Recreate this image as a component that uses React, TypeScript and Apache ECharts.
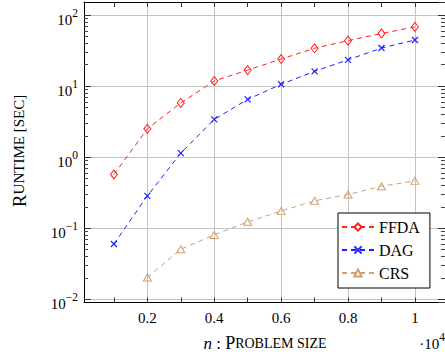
import React, { useEffect, useRef } from "react";
import * as echarts from "echarts";

// x values are in units of 10^4
const xValues = [0.1, 0.2, 0.3, 0.4, 0.5, 0.6, 0.7, 0.8, 0.9, 1.0];
const ffdaValues = [0.57, 2.5, 5.8, 11.8, 16.8, 24, 34, 43.6, 55, 68];
const dagValues = [0.06, 0.285, 1.14, 3.4, 6.5, 10.6, 16.1, 23.4, 34.3, 44.5];
const crsX = [0.2, 0.3, 0.4, 0.5, 0.6, 0.7, 0.8, 0.9, 1.0];
const crsValues = [0.0202, 0.0506, 0.0805, 0.123, 0.174, 0.243, 0.298, 0.39, 0.464];

const seriesNames = ["FFDA", "DAG", "CRS"];
const xTickValues = [0.1, 0.2, 0.3, 0.4, 0.5, 0.6, 0.7, 0.8, 0.9, 1.0];
const yMinorTicks: number[] = [];
[0.01, 0.1, 1, 10, 100].forEach((d) => {
  for (let k = 2; k <= 9; k++) yMinorTicks.push(+(d * k).toPrecision(3));
});

const FONT = "'Liberation Serif', 'Times New Roman', serif";
const RED = "#ff2020";
const BLUE = "#2020ff";
const TAN = "#d0a070";

const X_MIN = 0.0106;
const X_MAX = 1.09;
const Y_MIN = 0.00901;
const Y_MAX = 152.5;

const supMap: Record<string, string> = { "-": "\u2212" };

export default function App() {
  const ref = useRef<HTMLDivElement>(null);
  useEffect(() => {
    if (!ref.current) return;
    const chart = echarts.init(ref.current, undefined, { renderer: "svg" });
    const axisBlack = { color: "#000", width: 1 };
    const pairs = (xs: number[], ys: number[]) => xs.map((x, i) => [x, ys[i]]);

    const supRich = {
      b: { fontSize: 15, fontFamily: FONT, color: "#000", lineHeight: 20, verticalAlign: "bottom" },
      s: { fontSize: 11.5, fontFamily: FONT, color: "#000", lineHeight: 10, verticalAlign: "top" },
    };

    const option: any = {
      animation: false,
      grid: { left: 84, top: 2, width: 363, height: 300.5, containLabel: false },
      xAxis: [
        {
          type: "value", min: X_MIN, max: X_MAX, position: "bottom",
          axisLine: { show: true, lineStyle: axisBlack },
          axisTick: { show: false },
          axisLabel: {
            show: true, showMinLabel: false, showMaxLabel: false,
            fontSize: 15, fontFamily: FONT, color: "#000", margin: 8,
          },
          splitLine: { show: true, lineStyle: { color: "#c4c4c4", width: 1 } },
        },
        {
          type: "value", min: X_MIN, max: X_MAX, position: "bottom",
          axisLine: { show: false },
          axisTick: { show: true, inside: true, length: 5, customValues: xTickValues, lineStyle: { color: "#333" } },
          axisLabel: { show: false },
          splitLine: { show: false },
        },
        {
          type: "value", min: X_MIN, max: X_MAX, position: "top",
          axisLine: { show: true, lineStyle: axisBlack },
          axisTick: { show: true, inside: true, length: 5, customValues: xTickValues, lineStyle: { color: "#333" } },
          axisLabel: { show: false },
          splitLine: { show: false },
        },
      ],
      yAxis: [
        {
          type: "log", min: Y_MIN, max: Y_MAX, position: "left",
          axisLine: { show: true, lineStyle: axisBlack },
          axisTick: { show: true, inside: true, length: 7, lineStyle: { color: "#333" } },
          axisLabel: {
            show: true, showMinLabel: false, showMaxLabel: false, margin: 6,
            padding: [4, 0, 0, 0],
            formatter: (v: number) => {
              const l = Math.log10(v);
              const e = Math.round(l);
              if (Math.abs(l - e) > 0.01) return "";
              const s = String(e).split("").map((c) => supMap[c] || c).join("");
              return `{b|10}{s|${s}}`;
            },
            rich: supRich,
          },
          splitLine: { show: true, lineStyle: { color: "#c4c4c4", width: 1 } },
        },
        {
          type: "log", min: Y_MIN, max: Y_MAX, position: "left",
          axisLine: { show: false },
          axisTick: { show: true, inside: true, length: 4, customValues: yMinorTicks, lineStyle: { color: "#444" } },
          axisLabel: { show: false },
          splitLine: { show: false },
        },
        {
          type: "log", min: Y_MIN, max: Y_MAX, position: "right",
          axisLine: { show: true, lineStyle: axisBlack },
          axisTick: { show: true, inside: true, length: 7, lineStyle: { color: "#333" } },
          axisLabel: { show: false },
          splitLine: { show: false },
        },
        {
          type: "log", min: Y_MIN, max: Y_MAX, position: "right",
          axisLine: { show: false },
          axisTick: { show: true, inside: true, length: 4, customValues: yMinorTicks, lineStyle: { color: "#444" } },
          axisLabel: { show: false },
          splitLine: { show: false },
        },
      ],
      legend: {
        data: seriesNames,
        orient: "vertical",
        left: 338,
        top: 213,
        padding: [6, 10, 7, 3],
        itemWidth: 32,
        itemHeight: 9,
        itemGap: 7,
        borderColor: "#000",
        borderWidth: 1,
        borderRadius: 0,
        backgroundColor: "#fff",
        textStyle: { fontSize: 16, fontFamily: FONT, color: "#000", lineHeight: 16 },
      },
      series: [
        {
          name: "FFDA", type: "line", data: pairs(xValues, ffdaValues),
          xAxisIndex: 0, yAxisIndex: 0,
          color: RED,
          symbol: "diamond", symbolSize: [7, 9],
          lineStyle: { color: RED, width: 1, type: [5, 4] },
          itemStyle: { color: "transparent", borderColor: RED, borderWidth: 1 },
        },
        {
          name: "DAG", type: "line", data: pairs(xValues, dagValues),
          xAxisIndex: 0, yAxisIndex: 0,
          color: BLUE,
          symbol: "path://M0,0L10,10M0,10L10,0", symbolSize: [6, 6],
          lineStyle: { color: BLUE, width: 1, type: [5, 4] },
          itemStyle: { color: "transparent", borderColor: BLUE, borderWidth: 1.2 },
        },
        {
          name: "CRS", type: "line", data: pairs(crsX, crsValues),
          xAxisIndex: 0, yAxisIndex: 0,
          color: TAN,
          symbol: "triangle", symbolSize: [8, 7],
          lineStyle: { color: TAN, width: 1, type: [5, 4] },
          itemStyle: { color: "transparent", borderColor: TAN, borderWidth: 1 },
        },
      ],
      graphic: [
        {
          type: "text", x: 19, y: 151, rotation: Math.PI / 2,
          style: {
            text: "{a|R}{c|UNTIME [SEC]}",
            align: "center", verticalAlign: "middle",
            rich: {
              a: { fontSize: 19, fontFamily: FONT, color: "#000" },
              c: { fontSize: 15, fontFamily: FONT, color: "#000" },
            },
          },
        },
        {
          type: "text", x: 265, y: 343,
          style: {
            text: "{i|n}{n| : }{a|P}{c|ROBLEM SIZE}",
            align: "center", verticalAlign: "middle",
            rich: {
              i: { fontSize: 17, fontFamily: FONT, fontStyle: "italic", color: "#000" },
              n: { fontSize: 17, fontFamily: FONT, color: "#000" },
              a: { fontSize: 18, fontFamily: FONT, color: "#000" },
              c: { fontSize: 14, fontFamily: FONT, color: "#000" },
            },
          },
        },
        {
          type: "text", x: 445, y: 341,
          style: {
            text: "{b|\u00b710}{s|4}",
            align: "right", verticalAlign: "middle",
            rich: supRich,
          },
        },
      ],
    };
    chart.setOption(option);
    return () => chart.dispose();
  }, []);
  return (
    <div
      ref={ref}
      style={{ position: "absolute", left: 0, top: 0, width: 445, height: 356, background: "#fff" }}
    />
  );
}
